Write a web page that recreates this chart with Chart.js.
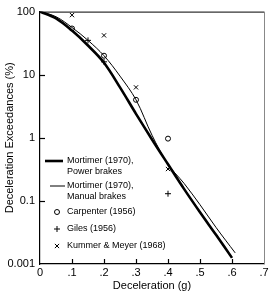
<!DOCTYPE html>
<html>
<head>
<meta charset="utf-8">
<script src="https://cdn.jsdelivr.net/npm/chart.js@4/dist/chart.umd.min.js"></script>
<style>
html, body { margin: 0; padding: 0; background: #fff; }
</style>
</head>
<body>
<canvas id="decelChart" width="280" height="293"></canvas>
<script>
// Mortimer (1970) curves
var powerX = [0, 0.05, 0.1, 0.15, 0.2, 0.25, 0.3, 0.35, 0.4, 0.45, 0.5, 0.55, 0.6];
var powerY = [100, 78, 50, 29, 15.5, 6.3, 2.4, 0.94, 0.38, 0.155, 0.066, 0.029, 0.0125];
var manualX = [0, 0.05, 0.1, 0.15, 0.2, 0.25, 0.3, 0.35, 0.4, 0.45, 0.5, 0.55, 0.61];
var manualY = [100, 83, 56, 35, 20, 9.5, 4.0, 1.1, 0.38, 0.19, 0.087, 0.038, 0.015];

// survey points
var carpenterX = [0.1, 0.2, 0.3, 0.4];
var carpenterY = [54, 20, 4.0, 0.97];
var gilesX = [0.15, 0.2, 0.4];
var gilesY = [35, 16, 0.13];
var kummerX = [0.1, 0.2, 0.3, 0.4];
var kummerY = [88, 42, 6.3, 0.32];

var xTicks = [0, 0.1, 0.2, 0.3, 0.4, 0.5, 0.6, 0.7];
var xTickLabels = ['0', '.1', '.2', '.3', '.4', '.5', '.6', '.7'];
var yTicks = [100, 10, 1, 0.1, 0.01];
var yTickLabels = ['100', '10', '1', '0.1', '0.001'];

function pts(xs, ys) {
    return xs.map(function(x, i) { return {x: x, y: ys[i]}; });
}

var font = "'Liberation Sans', Arial, sans-serif";
var ctx = document.getElementById('decelChart').getContext('2d');

// frame, inward tick marks and the legend inside the plot
var extras = {
    id: 'extras',
    afterDraw: function(chart) {
        var c = chart.ctx;
        var a = chart.chartArea;
        var xs = chart.scales.x, ys = chart.scales.y;
        c.save();
        c.strokeStyle = '#000';
        c.lineWidth = 1;
        c.beginPath();
        c.moveTo(a.left, a.top + 0.5);
        c.lineTo(a.right, a.top + 0.5);
        c.stroke();
        c.strokeStyle = '#888';
        c.beginPath();
        c.moveTo(a.right + 0.5, a.top);
        c.lineTo(a.right + 0.5, a.bottom);
        c.stroke();

        c.strokeStyle = '#000';
        c.lineWidth = 1.2;
        xTicks.slice(1, -1).forEach(function(v) {
            var px = Math.round(xs.getPixelForValue(v)) + 0.5;
            c.beginPath();
            c.moveTo(px, a.bottom);
            c.lineTo(px, a.bottom - 5);
            c.stroke();
        });
        yTicks.slice(1, -1).forEach(function(v) {
            var py = Math.round(ys.getPixelForValue(v)) + 0.5;
            c.beginPath();
            c.moveTo(a.left, py);
            c.lineTo(a.left + 5, py);
            c.stroke();
        });

        // legend
        var ds = chart.data.datasets;
        var rows = [
            {y: 161, x0: 45, x1: 63},
            {y: 186, x0: 50, x1: 65},
            {y: 212},
            {y: 229},
            {y: 246}
        ];
        c.font = '9px ' + font;
        c.textBaseline = 'middle';
        c.textAlign = 'left';
        ds.forEach(function(d, i) {
            var r = rows[i];
            if (d.showLine) {
                c.lineWidth = d.borderWidth;
                c.beginPath();
                c.moveTo(r.x0, r.y);
                c.lineTo(r.x1, r.y);
                c.stroke();
            } else {
                c.fillStyle = 'rgba(0,0,0,0)';
                c.lineWidth = 1;
                Chart.helpers.drawPoint(c, {
                    pointStyle: d.pointStyle,
                    radius: d.pointRadius,
                    borderWidth: 1
                }, 57, r.y);
            }
            c.fillStyle = '#000';
            d.label.split('\n').forEach(function(t, k) {
                c.fillText(t, 67, r.y + k * 10.5);
            });
        });
        c.restore();
    }
};

new Chart(ctx, {
    type: 'scatter',
    data: {
        datasets: [
            {
                label: 'Mortimer (1970),\nPower brakes',
                data: pts(powerX, powerY),
                showLine: true,
                borderColor: '#000',
                borderWidth: 2.6,
                pointRadius: 0,
                tension: 0.35
            },
            {
                label: 'Mortimer (1970),\nManual brakes',
                data: pts(manualX, manualY),
                showLine: true,
                borderColor: '#000',
                borderWidth: 1,
                pointRadius: 0,
                tension: 0.35
            },
            {
                label: 'Carpenter (1956)',
                data: pts(carpenterX, carpenterY),
                pointStyle: 'circle',
                pointRadius: 2.5,
                borderColor: '#000',
                borderWidth: 1,
                backgroundColor: 'rgba(0,0,0,0)'
            },
            {
                label: 'Giles (1956)',
                data: pts(gilesX, gilesY),
                pointStyle: 'cross',
                pointRadius: 3,
                borderColor: '#000',
                borderWidth: 1
            },
            {
                label: 'Kummer & Meyer (1968)',
                data: pts(kummerX, kummerY),
                pointStyle: 'crossRot',
                pointRadius: 3,
                borderColor: '#000',
                borderWidth: 1
            }
        ]
    },
    options: {
        responsive: false,
        animation: false,
        layout: {
            padding: {top: 8, right: 16, left: 0, bottom: 0}
        },
        plugins: {
            legend: {display: false},
            tooltip: {enabled: false}
        },
        scales: {
            x: {
                type: 'linear',
                min: 0,
                max: 0.7,
                grid: {display: false, drawTicks: false},
                border: {display: true, color: '#000', width: 1.2},
                afterBuildTicks: function(axis) {
                    axis.ticks = xTicks.map(function(v) { return {value: v}; });
                },
                afterFit: function(axis) { axis.height = 29; },
                ticks: {
                    padding: 2,
                    color: '#000',
                    font: {family: font, size: 11},
                    callback: function(v) { return xTickLabels[xTicks.indexOf(v)]; }
                },
                title: {
                    display: true,
                    text: 'Deceleration (g)',
                    color: '#000',
                    font: {family: font, size: 11},
                    padding: {top: 1, bottom: 0}
                }
            },
            y: {
                type: 'logarithmic',
                min: 0.01,
                max: 100,
                grid: {display: false, drawTicks: false},
                border: {display: true, color: '#000', width: 1.2},
                afterBuildTicks: function(axis) {
                    axis.ticks = yTicks.map(function(v) { return {value: v}; });
                },
                afterFit: function(axis) { axis.width = 40; },
                ticks: {
                    padding: 5,
                    color: '#000',
                    font: {family: font, size: 11},
                    callback: function(v) { return yTickLabels[yTicks.indexOf(v)]; }
                },
                title: {
                    display: true,
                    text: 'Deceleration Exceedances (%)',
                    color: '#000',
                    font: {family: font, size: 11},
                    padding: {top: 3, bottom: 0}
                }
            }
        }
    },
    plugins: [extras]
});
</script>
</body>
</html>
